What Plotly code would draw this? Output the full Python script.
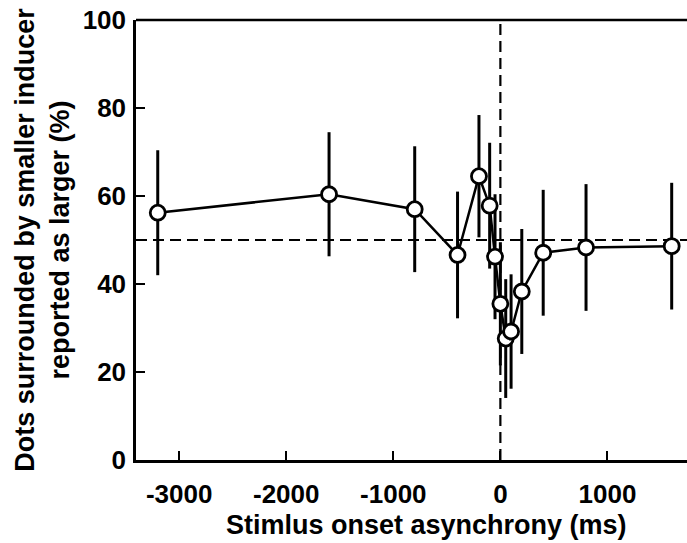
import plotly.graph_objects as go

soa = [-3200, -1600, -800, -400, -200, -100, -50, 0, 50, 100, 200, 400, 800, 1600]
pct = [56.2, 60.4, 57.0, 46.6, 64.5, 57.8, 46.2, 35.5, 27.6, 29.2, 38.3, 47.1, 48.3, 48.6]
err = [14.2, 14.1, 14.3, 14.4, 13.9, 14.3, 14.2, 14.0, 13.5, 13.0, 14.2, 14.3, 14.4, 14.4]

x_ticks = [-3000, -2000, -1000, 0, 1000]
y_ticks = [0, 20, 40, 60, 80, 100]

FONT = "Liberation Sans, Arial, sans-serif"
FS_TICK = 26
FS_TITLE = 27

fig = go.Figure()
fig.add_trace(go.Scatter(
    x=soa, y=pct, mode="lines+markers",
    line=dict(color="black", width=2.5),
    marker=dict(size=15, color="white", line=dict(color="black", width=2.8)),
    error_y=dict(type="data", array=err, visible=True, color="black", thickness=3, width=0),
    showlegend=False,
))

# reference lines
fig.add_shape(type="line", xref="paper", yref="y", x0=0, x1=1, y0=50, y1=50,
              line=dict(color="black", width=2.2, dash="11px,6px"), layer="below")
fig.add_shape(type="line", xref="x", yref="paper", x0=0, x1=0, y0=0, y1=1,
              line=dict(color="black", width=2.2, dash="11px,6px"), layer="below")
# top border
fig.add_shape(type="line", xref="paper", yref="paper", x0=0, x1=1, y0=1, y1=1,
              line=dict(color="black", width=2.5))

# x-axis title (centred as in the original, uncropped figure)
fig.add_annotation(
    text="<b>Stimlus onset asynchrony (ms)</b>", xref="paper", yref="paper",
    x=0.528, y=-0.148, xanchor="center", yanchor="middle", showarrow=False,
    font=dict(family=FONT, size=FS_TITLE, color="black"),
)

fig.update_layout(
    width=687, height=543,
    margin=dict(l=136, r=0, t=20, b=83),
    plot_bgcolor="white", paper_bgcolor="white",
    font=dict(family=FONT, color="black", size=FS_TICK),
)
fig.update_xaxes(
    range=[-3403, 1743], tickvals=x_ticks, ticktext=[str(v) for v in x_ticks],
    ticks="inside", ticklen=9, tickwidth=2, tickcolor="black",
    showline=True, linecolor="black", linewidth=2.5, showgrid=False, zeroline=False,
    tickfont=dict(family=FONT, size=FS_TICK, color="black", weight="bold"),
    ticklabelstandoff=9,
)
fig.update_yaxes(
    range=[0, 100], tickvals=y_ticks,
    ticks="inside", ticklen=9, tickwidth=2, tickcolor="black",
    showline=True, linecolor="black", linewidth=2.5, showgrid=False, zeroline=False,
    tickfont=dict(family=FONT, size=FS_TICK, color="black", weight="bold"),
    ticklabelstandoff=2,
    title=dict(text="<b>Dots surrounded by smaller inducer<br>reported as larger (%)</b>",
               font=dict(family=FONT, size=FS_TITLE), standoff=6),
)

fig.write_html("out.html")
